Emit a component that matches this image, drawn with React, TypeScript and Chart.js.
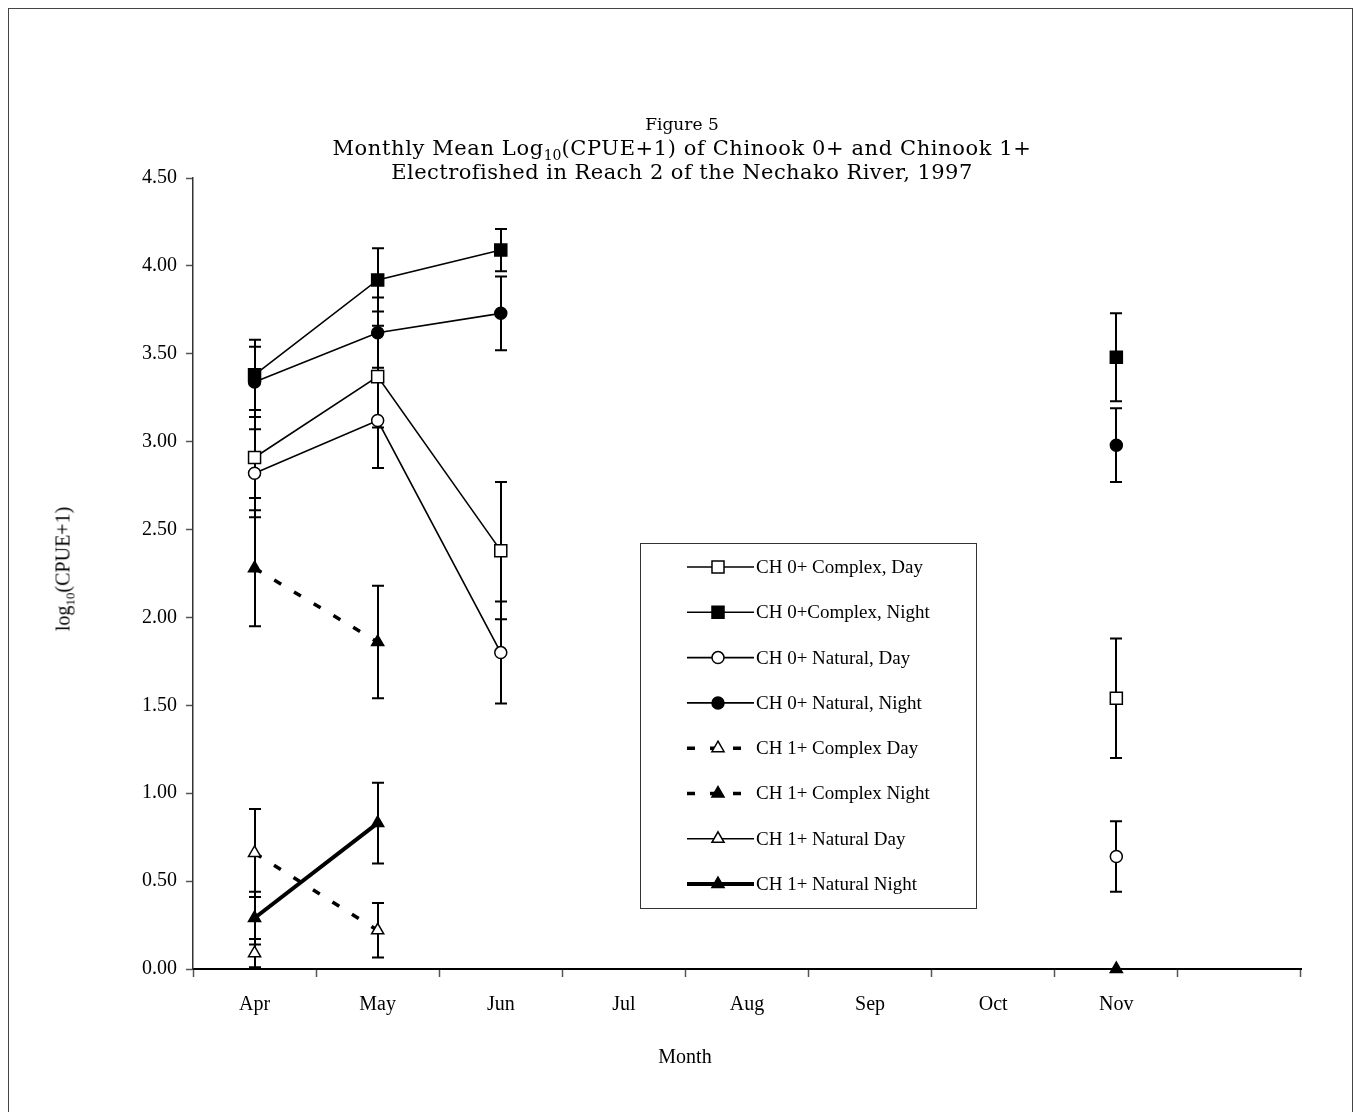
import React, { useEffect, useRef } from 'react';
import { Chart, registerables } from 'chart.js';
import { drawPoint } from 'chart.js/helpers';

Chart.register(...registerables);

// ---- data ----
const months = ['Apr', 'May', 'Jun', 'Jul', 'Aug', 'Sep', 'Oct', 'Nov', ''];

const ch0ComplexDay = [2.91, 3.37, 2.38, null, null, null, null, 1.54, null];
const ch0ComplexDayErr = [0.23, 0.29, 0.39, null, null, null, null, 0.34, null];

const ch0ComplexNight = [3.38, 3.92, 4.09, null, null, null, null, 3.48, null];
const ch0ComplexNightErr = [0.2, 0.18, 0.12, null, null, null, null, 0.25, null];

const ch0NaturalDay = [2.82, 3.12, 1.8, null, null, null, null, 0.64, null];
const ch0NaturalDayErr = [0.25, 0.27, 0.29, null, null, null, null, 0.2, null];

const ch0NaturalNight = [3.34, 3.62, 3.73, null, null, null, null, 2.98, null];
const ch0NaturalNightErr = [0.2, 0.2, 0.21, null, null, null, null, 0.21, null];

const ch1ComplexDay = [0.66, 0.22, null, null, null, null, null, null, null];
const ch1ComplexDayErr = [0.25, 0.155, null, null, null, null, null, null, null];

const ch1ComplexNight = [2.28, 1.86, null, null, null, null, null, null, null];
const ch1ComplexNightErr = [0.33, 0.32, null, null, null, null, null, null, null];

const ch1NaturalDay = [0.09, null, null, null, null, null, null, null, null];
const ch1NaturalDayErr = [0.08, null, null, null, null, null, null, null, null];

const ch1NaturalNight = [0.29, 0.83, null, null, null, null, null, 0, null];
const ch1NaturalNightErr = [0.15, 0.23, null, null, null, null, null, null, null];

const seriesLabels = [
  'CH 0+ Complex, Day',
  'CH 0+Complex, Night',
  'CH 0+ Natural, Day',
  'CH 0+ Natural, Night',
  'CH 1+ Complex Day',
  'CH 1+ Complex Night',
  'CH 1+ Natural Day',
  'CH 1+ Natural Night',
];

const yMin = 0;
const yMax = 4.5;
const yStep = 0.5;

const FONT = '"Liberation Serif", "Times New Roman", serif';

const errorBarPlugin = {
  id: 'errorBars',
  beforeDatasetsDraw(chart: any) {
    const ctx = chart.ctx;
    const xs = chart.scales.x;
    const ys = chart.scales.y;
    ctx.save();
    ctx.strokeStyle = '#000';
    ctx.lineWidth = 2;
    chart.data.datasets.forEach((ds: any) => {
      const errs = ds.errors;
      if (!errs) return;
      ds.data.forEach((v: number | null, j: number) => {
        const e = errs[j];
        if (v == null || e == null) return;
        const px = Math.round(xs.getPixelForValue(j));
        const top = ys.getPixelForValue(v + e);
        const bot = ys.getPixelForValue(Math.max(0, v - e));
        ctx.beginPath();
        ctx.moveTo(px, top);
        ctx.lineTo(px, bot);
        ctx.moveTo(px - 6, top);
        ctx.lineTo(px + 6, top);
        ctx.moveTo(px - 6, bot);
        ctx.lineTo(px + 6, bot);
        ctx.stroke();
      });
    });
    ctx.restore();
  },
};

const boxLegendPlugin = {
  id: 'boxLegend',
  afterDraw(chart: any, _args: any, opts: any) {
    const ctx = chart.ctx;
    const { left, top, width, height, firstRow, rowGap, lineStart, lineEnd, markerX, textX } = opts;
    ctx.save();
    ctx.fillStyle = '#fff';
    ctx.fillRect(left, top, width, height);
    ctx.strokeStyle = '#333';
    ctx.lineWidth = 1;
    ctx.strokeRect(left + 0.5, top + 0.5, width, height);
    chart.data.datasets.forEach((ds: any, i: number) => {
      const y = firstRow + i * rowGap;
      ctx.save();
      ctx.strokeStyle = ds.borderColor;
      ctx.lineWidth = ds.borderWidth;
      ctx.setLineDash(ds.borderDash || []);
      ctx.beginPath();
      ctx.moveTo(lineStart, y);
      ctx.lineTo(lineEnd, y);
      ctx.stroke();
      ctx.restore();
      ctx.save();
      ctx.fillStyle = ds.pointBackgroundColor;
      ctx.strokeStyle = ds.pointBorderColor;
      ctx.lineWidth = ds.pointBorderWidth;
      drawPoint(ctx, { pointStyle: ds.pointStyle, radius: ds.pointRadius, rotation: 0, borderWidth: ds.pointBorderWidth }, markerX, y);
      ctx.restore();
      ctx.fillStyle = '#000';
      ctx.font = '19px ' + FONT;
      ctx.textBaseline = 'middle';
      ctx.textAlign = 'left';
      ctx.fillText(ds.label, textX, y + 1);
    });
    ctx.restore();
  },
};

function makeDs(label: string, data: any[], errors: any[], style: string, filled: boolean, radius: number, lineWidth: number, dash: number[] | null) {
  return {
    label,
    data,
    errors,
    borderColor: '#000',
    backgroundColor: '#000',
    borderWidth: lineWidth,
    borderDash: dash || [],
    pointStyle: style,
    pointRadius: radius,
    pointHoverRadius: radius,
    pointBackgroundColor: filled ? '#000' : '#fff',
    pointBorderColor: '#000',
    pointBorderWidth: 1.5,
    spanGaps: false,
    tension: 0,
    fill: false,
    clip: false,
  };
}

export default function App() {
  const canvasRef = useRef<HTMLCanvasElement | null>(null);

  useEffect(() => {
    document.body.style.overflow = 'hidden';
    document.documentElement.style.overflow = 'hidden';
    const canvas = canvasRef.current;
    if (!canvas) return;
    const datasets = [
      makeDs(seriesLabels[0], ch0ComplexDay, ch0ComplexDayErr, 'rect', false, 8.5, 1.6, null),
      makeDs(seriesLabels[1], ch0ComplexNight, ch0ComplexNightErr, 'rect', true, 8.5, 1.6, null),
      makeDs(seriesLabels[2], ch0NaturalDay, ch0NaturalDayErr, 'circle', false, 6, 1.6, null),
      makeDs(seriesLabels[3], ch0NaturalNight, ch0NaturalNightErr, 'circle', true, 6, 1.6, null),
      makeDs(seriesLabels[4], ch1ComplexDay, ch1ComplexDayErr, 'triangle', false, 7, 3.5, [8, 15]),
      makeDs(seriesLabels[5], ch1ComplexNight, ch1ComplexNightErr, 'triangle', true, 7, 3.5, [8, 15]),
      makeDs(seriesLabels[6], ch1NaturalDay, ch1NaturalDayErr, 'triangle', false, 7, 1.6, null),
      makeDs(seriesLabels[7], ch1NaturalNight, ch1NaturalNightErr, 'triangle', true, 7, 4, null),
    ];
    const chart = new Chart(canvas, {
      type: 'line',
      data: { labels: months, datasets: datasets as any },
      options: {
        responsive: false,
        animation: false,
        devicePixelRatio: 1,
        layout: { padding: { top: 178, right: 52, left: 0, bottom: 0 } },
        font: { family: FONT, size: 20 } as any,
        plugins: {
          legend: { display: false },
          tooltip: { enabled: false },
          title: { display: false },
          boxLegend: {
            left: 640, top: 543, width: 336, height: 365,
            firstRow: 567, rowGap: 45.3,
            lineStart: 687, lineEnd: 754, markerX: 718, textX: 756,
          },
        } as any,
        scales: {
          x: {
            type: 'category',
            offset: true,
            grid: { offset: true, drawOnChartArea: false, drawTicks: true, tickLength: 8, color: '#555', tickWidth: 1.5 },
            border: { color: '#000', width: 2 },
            ticks: { padding: 16, autoSkip: false, maxRotation: 0, color: '#000', font: { family: FONT, size: 20 } },
            title: { display: false },
            afterFit: (s: any) => { s.height = 143; },
          },
          y: {
            min: yMin,
            max: yMax,
            ticks: { stepSize: yStep, padding: 9, color: '#000', font: { family: FONT, size: 20 }, callback: (v: any) => Number(v).toFixed(2) },
            grid: { drawOnChartArea: false, drawTicks: true, tickLength: 7, color: '#555', tickWidth: 1.5 },
            border: { color: '#333', width: 1.5 },
            afterFit: (s: any) => { s.width = 193; },
          },
        },
      } as any,
      plugins: [errorBarPlugin, boxLegendPlugin],
    });
    return () => chart.destroy();
  }, []);

  return (
    <div style={{ position: 'absolute', left: 0, top: 0, width: 1353, height: 1112, background: '#fff', overflow: 'hidden' }}>
      <div style={{ position: 'absolute', left: 8, top: 8, width: 1345, height: 1130, border: '1.5px solid #444', boxSizing: 'border-box' }} />
      <canvas ref={canvasRef} width={1353} height={1112} style={{ position: 'absolute', left: 0, top: 0, width: 1353, height: 1112 }} />
      <div style={{ position: 'absolute', left: 0, top: 112, width: 1364, textAlign: 'center', fontFamily: '"DejaVu Serif", serif', lineHeight: '24px', color: '#000' }}>
        <div style={{ fontSize: 17 }}>Figure 5</div>
        <div style={{ fontSize: 21, letterSpacing: '0.6px' }}>Monthly Mean Log<sub style={{ fontSize: 14, lineHeight: 0, letterSpacing: 0 }}>10</sub>(CPUE+1) of Chinook 0+ and Chinook 1+</div>
        <div style={{ fontSize: 21, letterSpacing: '0.45px' }}>Electrofished in Reach 2 of the Nechako River, 1997</div>
      </div>
      <div style={{ position: 'absolute', left: 63, top: 569, transform: 'translate(-50%, -50%) rotate(-90deg)', whiteSpace: 'nowrap', fontFamily: FONT, fontSize: 20, color: '#000' }}>
        log<sub style={{ fontSize: 13, lineHeight: 0 }}>10</sub>(CPUE+1)
      </div>
      <div style={{ position: 'absolute', left: 685, top: 1056, transform: 'translate(-50%, -50%)', whiteSpace: 'nowrap', fontFamily: FONT, fontSize: 20, color: '#000' }}>
        Month
      </div>
    </div>
  );
}
